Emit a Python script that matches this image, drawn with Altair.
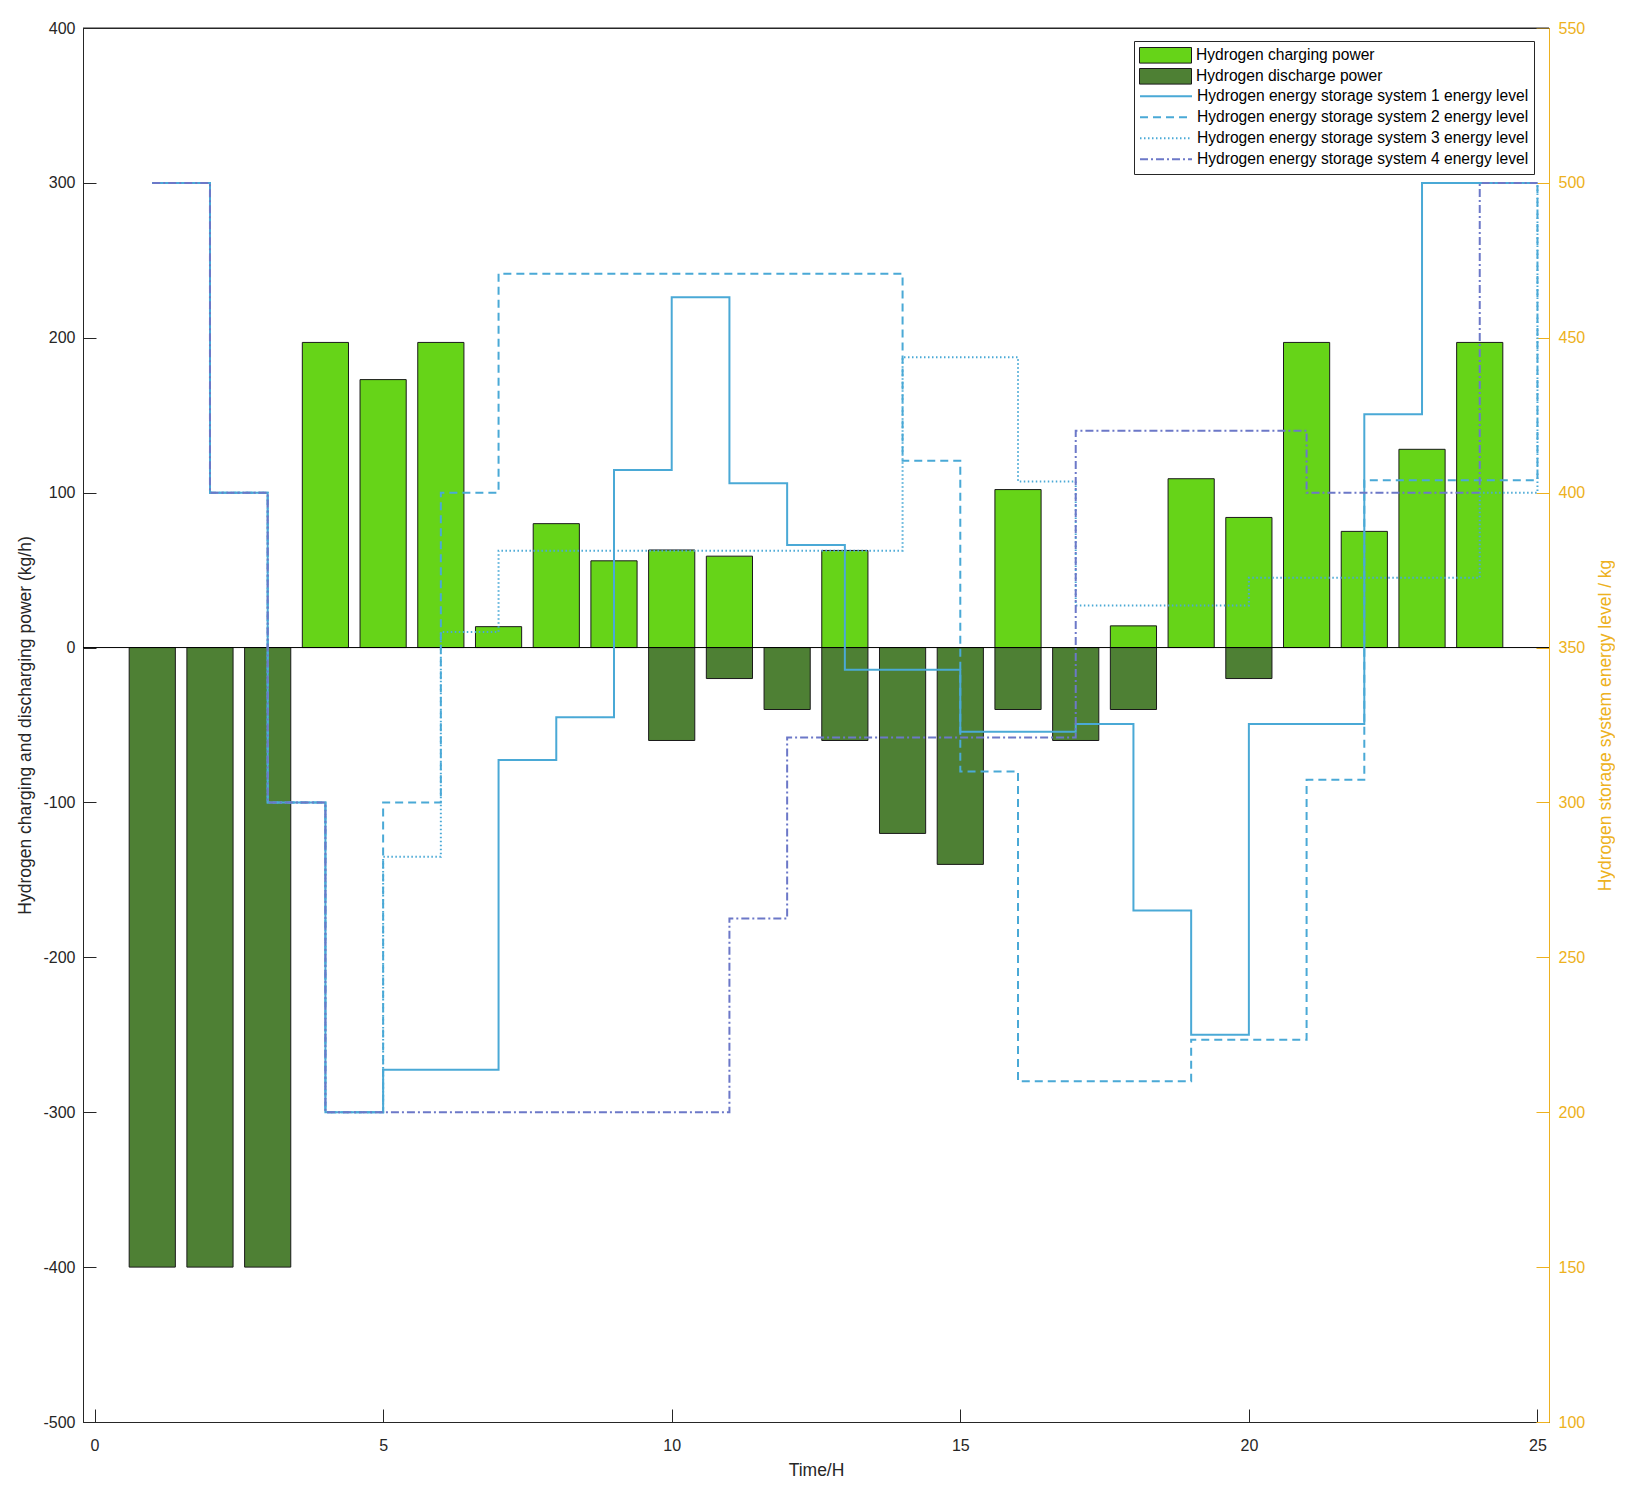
import altair as alt
import pandas as pd

FONT = "Liberation Sans"
TXT = "#262626"
GOLD = "#EDB120"
GREEN = "#66D418"
DARK = "#4E8034"
BLUE = "#4AA9D6"
PURPLE = "#6C78C8"

# ---------------- data ----------------
hours = list(range(1, 25))
charging = [0, 0, 0, 197, 173, 197, 13.5, 80, 56, 63, 59, 0,
            62.7, 0, 0, 102, 0, 14, 109, 84, 197, 75, 128, 197]
discharging = [-400, -400, -400, 0, 0, 0, 0, 0, 0, -60, -20, -40,
               -60, -120, -140, -40, -60, -40, 0, -20, 0, 0, 0, 0]

step_hours = list(range(1, 26))
level_s1 = [500, 400, 300, 200, 213.7, 213.7, 313.7, 327.5, 407.3, 463.1, 403, 383.1,
            342.8, 342.8, 322.8, 322.8, 325.3, 265.1, 225, 325.3, 325.3, 425.3, 500, 500, 500]
level_s2 = [500, 400, 300, 200, 300, 400, 470.7, 470.7, 470.7, 470.7, 470.7, 470.7,
            470.7, 410.3, 310, 210, 210, 210, 223.4, 223.4, 307.3, 404, 404, 404, 500]
level_s3 = [500, 400, 300, 200, 282.5, 355, 381.25, 381.25, 381.25, 381.25, 381.25, 381.25,
            381.25, 443.7, 443.7, 403.6, 363.6, 363.6, 363.6, 372.5, 372.5, 372.5, 372.5, 400, 500]
level_s4 = [500, 400, 300, 200, 200, 200, 200, 200, 200, 200, 262.5, 321,
            321, 321, 321, 321, 420, 420, 420, 420, 400, 400, 400, 500, 500]

bar_names = ["Hydrogen charging power", "Hydrogen discharge power"]
line_names = ["Hydrogen energy storage system 1 energy level",
              "Hydrogen energy storage system 2 energy level",
              "Hydrogen energy storage system 3 energy level",
              "Hydrogen energy storage system 4 energy level"]

x_ticks = [0, 5, 10, 15, 20, 25]
left_ticks = [-500, -400, -300, -200, -100, 0, 100, 200, 300, 400]
right_ticks = [100, 150, 200, 250, 300, 350, 400, 450, 500, 550]

X_LIM = [-0.2, 25.2]
LEFT_LIM = [-500, 400]
RIGHT_LIM = [100, 550]

# ---------------- tables ----------------
bar_rows = []
for h, c, d in zip(hours, charging, discharging):
    if c != 0:
        bar_rows.append({"hour": h, "value": c, "series": bar_names[0]})
    if d != 0:
        bar_rows.append({"hour": h, "value": d, "series": bar_names[1]})
bars_df = pd.DataFrame(bar_rows)

line_rows = []
for name, levels in zip(line_names, [level_s1, level_s2, level_s3, level_s4]):
    for h, v in zip(step_hours, levels):
        line_rows.append({"hour": h, "level": v, "series": name})
lines_df = pd.DataFrame(line_rows)

# ---------------- sizes ----------------
W, H = 1466, 1394
TICK = 13

# ---------------- scales ----------------
x_scale = alt.Scale(domain=X_LIM, nice=False, zero=False)
left_scale = alt.Scale(domain=LEFT_LIM, nice=False, zero=False)
right_scale = alt.Scale(domain=RIGHT_LIM, nice=False, zero=False)
fill_scale = alt.Scale(domain=bar_names, range=[GREEN, DARK])
stroke_scale = alt.Scale(domain=line_names, range=[BLUE, BLUE, BLUE, PURPLE])
dash_scale = alt.Scale(domain=line_names, range=[[1, 0], [8, 5], [1.5, 2.5], [8, 3, 2, 3]])

# ---------------- legends ----------------
legend_common = dict(
    orient="none", legendX=1051, legendY=13,
    labelFont=FONT, labelFontSize=15.6, labelColor="black", labelLimit=800,
    labelOffset=4, symbolSize=2704, padding=5, rowPadding=2, clipHeight=18.6,
)
bar_legend = alt.Legend(
    title=None, symbolType="M-1,-0.3H1V0.3H-1Z", symbolStrokeColor="#1a1a1a",
    symbolStrokeWidth=1, symbolOpacity=1, zindex=2, **legend_common)
line_legend = alt.Legend(
    title=" ", titleFontSize=15, titlePadding=26, symbolType="stroke",
    symbolStrokeWidth=2, strokeColor=TXT, fillColor="white", zindex=1, **legend_common)

# ---------------- axes ----------------
LABEL_EXPR = "'' + datum.value"   # plain hyphen-minus for negatives
common_axis = dict(grid=False, labelFont=FONT, titleFont=FONT, labelFontSize=16,
                   titleFontSize=17.5, titleFontWeight="normal", domainWidth=1,
                   labelExpr=LABEL_EXPR)
tick_only = dict(grid=False, labels=False, domain=False, title=None, ticks=True,
                 tickSize=TICK, tickWidth=1)

bottom_axis = alt.Axis(values=x_ticks, title="Time/H", orient="bottom",
                       ticks=False, labelPadding=15, titlePadding=8, domainColor=TXT,
                       labelColor=TXT, titleColor=TXT, **common_axis)
left_axis = alt.Axis(values=left_ticks,
                     title="Hydrogen charging and discharging power (kg/h)", orient="left",
                     ticks=False, labelPadding=8, titlePadding=8, domainColor=TXT,
                     labelColor=TXT, titleColor=TXT, **common_axis)
right_axis = alt.Axis(values=right_ticks,
                      title="Hydrogen storage system energy level / kg", orient="right",
                      ticks=False, labelPadding=9, titlePadding=12, domainColor=GOLD,
                      labelColor=GOLD, titleColor=GOLD, titleAngle=270, titleBaseline="top",
                      **common_axis)
# inward-pointing tick marks (opposite orient, shifted across the plot)
bottom_in_ticks = alt.Axis(values=x_ticks, orient="top", offset=-H, tickColor=TXT, **tick_only)
top_in_ticks = alt.Axis(values=x_ticks, orient="bottom", offset=-H, tickColor=TXT, **tick_only)
left_in_ticks = alt.Axis(values=left_ticks, orient="right", offset=-W, tickColor=TXT, **tick_only)
right_in_ticks = alt.Axis(values=right_ticks, orient="left", offset=-W, tickColor=GOLD, **tick_only)

# ---------------- marks ----------------
bars = alt.Chart(bars_df).transform_calculate(
    x0="datum.hour - 0.4", x1="datum.hour + 0.4", base="0"
).mark_bar(stroke="#1a1a1a", strokeWidth=1, opacity=1).encode(
    x=alt.X("x0:Q", scale=x_scale, axis=bottom_axis),
    x2="x1:Q",
    y=alt.Y("value:Q", scale=left_scale, axis=left_axis),
    y2="base:Q",
    fill=alt.Fill("series:N", scale=fill_scale, legend=bar_legend),
)

baseline = alt.Chart(alt.Data(values=[{}])).mark_rule(color="black", strokeWidth=1).encode(
    x=alt.XDatum(X_LIM[0], axis=bottom_in_ticks),
    x2=alt.X2Datum(X_LIM[1]),
    y=alt.YDatum(0, axis=left_in_ticks),
)

lines = alt.Chart(lines_df).mark_line(interpolate="step-after", strokeWidth=2).encode(
    x=alt.X("hour:Q", scale=x_scale, axis=top_in_ticks),
    y=alt.Y("level:Q", scale=right_scale, axis=right_axis),
    stroke=alt.Stroke("series:N", scale=stroke_scale, legend=line_legend),
    strokeDash=alt.StrokeDash("series:N", scale=dash_scale, legend=line_legend),
)

top_edge = alt.Chart(alt.Data(values=[{}])).mark_rule(color=TXT, strokeWidth=1).encode(
    x=alt.XDatum(X_LIM[0], axis=None),
    x2=alt.X2Datum(X_LIM[1]),
    y=alt.YDatum(RIGHT_LIM[1], axis=right_in_ticks),
)

left = alt.layer(bars, baseline)
right = alt.layer(lines, top_edge)
chart = alt.layer(left, right).resolve_scale(
    x="independent", y="independent"
).properties(
    width=W, height=H,
    padding={"left": 75, "top": 20, "right": 66, "bottom": 56},
    autosize=alt.AutoSizeParams(type="none"),
).configure(font=FONT).configure_view(stroke=TXT, strokeWidth=1)

chart.save("out.html", embed_options={"renderer": "svg", "actions": False})
